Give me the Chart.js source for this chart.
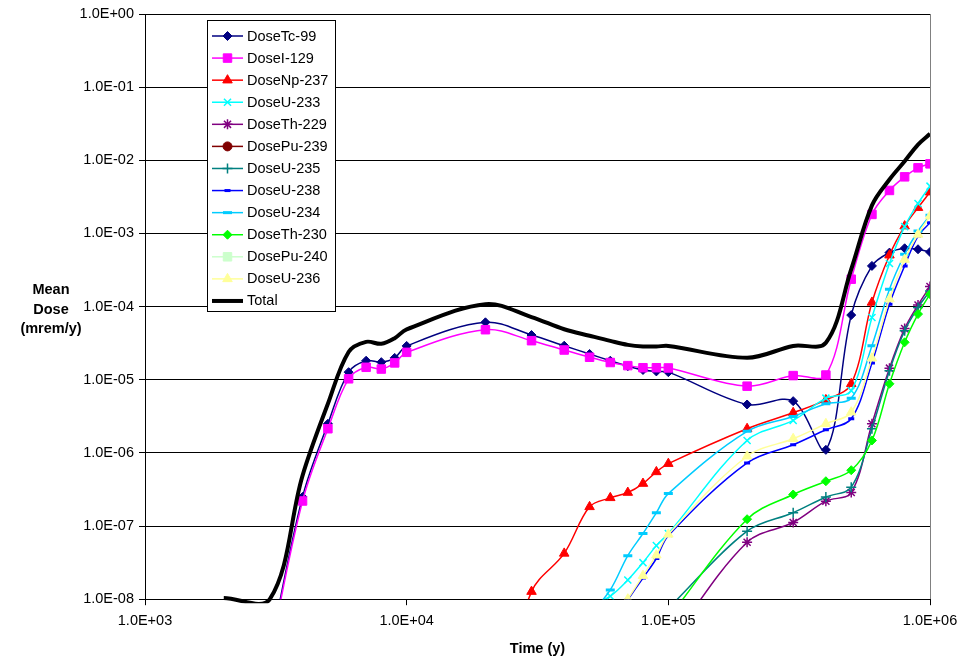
<!DOCTYPE html>
<html>
<head>
<meta charset="utf-8">
<script src="https://cdn.jsdelivr.net/npm/chart.js@4.4.1/dist/chart.umd.min.js"></script>
<style>
  html, body { margin: 0; padding: 0; background: #fff; }
  #wrap { position: relative; width: 959px; height: 661px; }
  #yTitle {
    position: absolute; left: 0; top: 280px; width: 102px;
    text-align: center; font: bold 14.5px "Liberation Sans", Arial, sans-serif;
    line-height: 19.5px; color: #000;
  }
</style>
</head>
<body>
<div id="wrap">
  <canvas id="chart" width="959" height="661"></canvas>
  <div id="yTitle">Mean<br>Dose<br>(mrem/y)</div>
</div>
<script>
// ---- data (time in years, dose in mrem/y) ----
const N = null;
const time = [2000, 3000, 4000, 5000, 6000, 7000, 8000, 9000, 10000,
  20000, 30000, 40000, 50000, 60000, 70000, 80000, 90000, 100000,
  200000, 300000, 400000, 500000, 600000, 700000, 800000, 900000, 1000000];

const doseTc99  = [N, 2e-9, 2.5e-7, 2.5e-6, 1.27e-5, 1.82e-5, 1.74e-5, 1.99e-5, 2.9e-5,
  6.1e-5, 4.09e-5, 2.92e-5, 2.25e-5, 1.82e-5, 1.53e-5, 1.36e-5, 1.3e-5, 1.27e-5,
  4.59e-6, 5.1e-6, 1.1e-6, 7.66e-5, 3.6e-4, 5.47e-4, 6.27e-4, 6.08e-4, 5.58e-4];
const doseI129  = [N, 1.8e-9, 2.2e-7, 2.14e-6, 1.03e-5, 1.48e-5, 1.4e-5, 1.7e-5, 2.37e-5,
  4.83e-5, 3.42e-5, 2.55e-5, 2.03e-5, 1.72e-5, 1.56e-5, 1.46e-5, 1.46e-5, 1.45e-5,
  8.17e-6, 1.14e-5, 1.16e-5, 2.37e-4, 1.82e-3, 3.87e-3, 5.94e-3, 7.89e-3, 8.94e-3];
const doseNp237 = [N, N, N, N, N, N, N, N, N,
  1e-10, 1.27e-8, 4.23e-8, 1.83e-7, 2.43e-7, 2.87e-7, 3.81e-7, 5.5e-7, 7.13e-7,
  2.14e-6, 3.54e-6, 5.3e-6, 8.8e-6, 1.14e-4, 5.04e-4, 1.26e-3, 2.25e-3, 3.67e-3];
const doseU233  = [N, N, N, N, N, N, N, N, N,
  N, N, N, 8e-9, 1.1e-8, 1.83e-8, 3.16e-8, 5.4e-8, 7.9e-8,
  1.48e-6, 2.78e-6, 5.6e-6, 7.1e-6, 7.1e-5, 3.88e-4, 1.24e-3, 2.57e-3, 4.43e-3];
const doseTh229 = [N, N, N, N, N, N, N, N, N,
  N, N, N, N, N, N, N, N, 2.4e-9,
  6.0e-8, 1.12e-7, 2.19e-7, 2.87e-7, 2.5e-6, 1.44e-5, 5.0e-5, 1.05e-4, 1.88e-4];
const dosePu239 = [N, N, N, N, N, N, N, N, N,
  N, N, N, N, N, N, N, N, N,
  N, N, N, N, N, 1e-10, 3e-10, 8e-10, 2e-9];
const doseU235  = [N, N, N, N, N, N, N, N, N,
  N, N, N, N, N, N, N, N, 7.5e-9,
  8.5e-8, 1.52e-7, 2.5e-7, 3.4e-7, 2.14e-6, 1.33e-5, 4.68e-5, 9.7e-5, 1.64e-4];
const doseU238  = [N, N, N, N, N, N, N, N, N,
  N, N, N, N, N, 9.8e-9, 1.95e-8, 3.6e-8, 7.4e-8,
  7.3e-7, 1.29e-6, 2.07e-6, 2.93e-6, 1.7e-5, 1.08e-4, 3.6e-4, 9.2e-4, 1.4e-3];
const doseU234  = [N, N, N, N, N, N, N, N, N,
  N, N, N, 6e-9, 1.34e-8, 3.94e-8, 7.9e-8, 1.52e-7, 2.78e-7,
  1.97e-6, 3.15e-6, 4.69e-6, 5.6e-6, 2.92e-5, 1.73e-4, 5.2e-4, 1.08e-3, 1.77e-3];
const doseTh230 = [N, N, N, N, N, N, N, N, N,
  N, N, N, N, N, N, N, N, 5.5e-9,
  1.24e-7, 2.7e-7, 4.1e-7, 5.8e-7, 1.48e-6, 8.8e-6, 3.25e-5, 7.9e-5, 1.48e-4];
const dosePu240 = [N, N, N, N, N, N, N, N, N,
  N, N, N, N, N, N, N, N, N,
  N, N, N, N, N, N, 1e-10, 4e-10, 1e-9];
const doseU236  = [N, N, N, N, N, N, N, N, N,
  N, N, N, N, N, 1.0e-8, 2.1e-8, 4.0e-8, 7.7e-8,
  9.0e-7, 1.56e-6, 2.5e-6, 3.6e-6, 1.97e-5, 1.27e-4, 4.4e-4, 9.7e-4, 1.73e-3];
const doseTotal = [1.04e-8, 1.0e-8, 4.9e-7, 4.7e-6, 2.4e-5, 3.3e-5, 3.1e-5, 3.7e-5, 4.9e-5,
  1.08e-4, 7.2e-5, 4.9e-5, 4.0e-5, 3.4e-5, 3.0e-5, 2.85e-5, 2.85e-5, 2.9e-5,
  2.0e-5, 2.9e-5, 3.2e-5, 3.24e-4, 2.42e-3, 5.47e-3, 9.7e-3, 1.64e-2, 2.3e-2];

const seriesLabels = ["DoseTc-99", "DoseI-129", "DoseNp-237", "DoseU-233", "DoseTh-229",
  "DosePu-239", "DoseU-235", "DoseU-238", "DoseU-234", "DoseTh-230", "DosePu-240",
  "DoseU-236", "Total"];
const seriesData = [doseTc99, doseI129, doseNp237, doseU233, doseTh229, dosePu239,
  doseU235, doseU238, doseU234, doseTh230, dosePu240, doseU236, doseTotal];

const xTicks = [1e3, 1e4, 1e5, 1e6];
const xTickLabels = ["1.0E+03", "1.0E+04", "1.0E+05", "1.0E+06"];
const yTicks = [1e-8, 1e-7, 1e-6, 1e-5, 1e-4, 1e-3, 1e-2, 1e-1, 1e0];
const yTickLabels = ["1.0E-08", "1.0E-07", "1.0E-06", "1.0E-05", "1.0E-04",
  "1.0E-03", "1.0E-02", "1.0E-01", "1.0E+00"];

// ---- look ----
const FONT = '"Liberation Sans", Arial, sans-serif';
const styles = [
  { color: "#000080", point: "rectRot",  r: 4.5 },
  { color: "#FF00FF", point: "rect",     r: 6 },
  { color: "#FF0000", point: "triangle", r: 5.5 },
  { color: "#00FFFF", point: "crossRot", r: 5, pbw: 1.5 },
  { color: "#800080", point: "star",     r: 5, pbw: 1.5 },
  { color: "#800000", point: "circle",   r: 4.5 },
  { color: "#008080", point: "cross",    r: 5, pbw: 1.5 },
  { color: "#0000FF", point: "line",     r: 3, pbw: 3 },
  { color: "#00CCFF", point: "line",     r: 4.5, pbw: 3 },
  { color: "#00FF00", point: "rectRot",  r: 4.5 },
  { color: "#CCFFCC", point: "rect",     r: 6 },
  { color: "#FFFF99", point: "triangle", r: 5.5 },
  { color: "#000000", point: false, r: 0, w: 4 }
];

const datasets = seriesData.map((arr, i) => {
  const s = styles[i];
  const isTotal = seriesLabels[i] === "Total";
  return {
    label: seriesLabels[i],
    data: time.map((t, k) => ({ x: t, y: arr[k] })),
    borderColor: s.color,
    backgroundColor: s.color,
    pointBackgroundColor: s.color,
    pointBorderColor: s.color,
    pointStyle: s.point,
    pointRadius: s.r,
    pointBorderWidth: s.pbw || 1,
    borderWidth: s.w || 1.5,
    tension: 0.35,
    capBezierPoints: !isTotal,
    clip: isTotal ? { left: 0, top: 0, right: 0, bottom: 4 } : undefined,
    order: seriesData.length - 1 - i
  };
});

// boxed legend inside the plot, line + marker samples like the original
const boxLegend = {
  id: "boxLegend",
  afterDatasetsDraw(chart) {
    const ctx = chart.ctx, area = chart.chartArea;
    const x0 = area.left + 62, y0 = area.top + 6, w = 128, h = 291, row = 22.08;
    ctx.save();
    ctx.fillStyle = "#fff";
    ctx.fillRect(x0, y0, w, h);
    ctx.strokeStyle = "#000";
    ctx.lineWidth = 1;
    ctx.strokeRect(x0 + 0.5, y0 + 0.5, w, h);
    ctx.font = "14.5px " + FONT;
    ctx.textBaseline = "middle";
    chart.data.datasets.forEach((ds, i) => {
      const cy = y0 + 16 + i * row;
      ctx.strokeStyle = ds.borderColor;
      ctx.lineWidth = ds.borderWidth;
      ctx.beginPath();
      ctx.moveTo(x0 + 5, cy);
      ctx.lineTo(x0 + 36, cy);
      ctx.stroke();
      if (ds.pointStyle) {
        ctx.fillStyle = ds.pointBackgroundColor;
        ctx.strokeStyle = ds.pointBorderColor;
        ctx.lineWidth = ds.pointBorderWidth;
        Chart.helpers.drawPoint(ctx, { pointStyle: ds.pointStyle, radius: ds.pointRadius,
          borderWidth: ds.pointBorderWidth, rotation: 0 }, x0 + 20.5, cy);
      }
      ctx.fillStyle = "#000";
      ctx.fillText(ds.label, x0 + 40, cy + 0.5);
    });
    ctx.restore();
  }
};

new Chart(document.getElementById("chart"), {
  type: "line",
  data: { datasets },
  plugins: [boxLegend],
  options: {
    responsive: false,
    animation: false,
    events: [],
    layout: { padding: { top: 14, right: 29, bottom: 0, left: 0 } },
    plugins: { legend: { display: false }, tooltip: { enabled: false } },
    scales: {
      x: {
        type: "logarithmic",
        min: 1e3, max: 1e6,
        afterBuildTicks: s => { s.ticks = xTicks.map(v => ({ value: v })); },
        afterFit: s => { s.paddingLeft = 0; s.paddingRight = 0; },
        ticks: {
          autoSkip: false, maxRotation: 0, padding: 7, color: "#000",
          font: { family: FONT, size: 14.5 },
          callback: v => xTickLabels[xTicks.indexOf(v)]
        },
        grid: {
          drawOnChartArea: true, tickLength: 6, tickColor: "#000",
          color: c => (c.tick && c.tick.value === 1e6) ? "#808080" : "rgba(0,0,0,0)"
        },
        border: { color: "#000", width: 1 },
        title: {
          display: true, text: "Time (y)", color: "#000",
          font: { family: FONT, size: 14.5, weight: "bold" },
          padding: { top: 3.5, bottom: 3.5 }
        }
      },
      y: {
        type: "logarithmic",
        min: 1e-8, max: 1,
        afterBuildTicks: s => { s.ticks = yTicks.map(v => ({ value: v })); },
        afterFit: s => { s.width = 145; },
        ticks: {
          autoSkip: false, padding: 5, color: "#000",
          font: { family: FONT, size: 14.5 },
          callback: v => yTickLabels[yTicks.indexOf(v)]
        },
        grid: { color: "#000", lineWidth: 1, tickLength: 6, tickColor: "#000" },
        border: { color: "#000", width: 1 }
      }
    }
  }
});
</script>
</body>
</html>
